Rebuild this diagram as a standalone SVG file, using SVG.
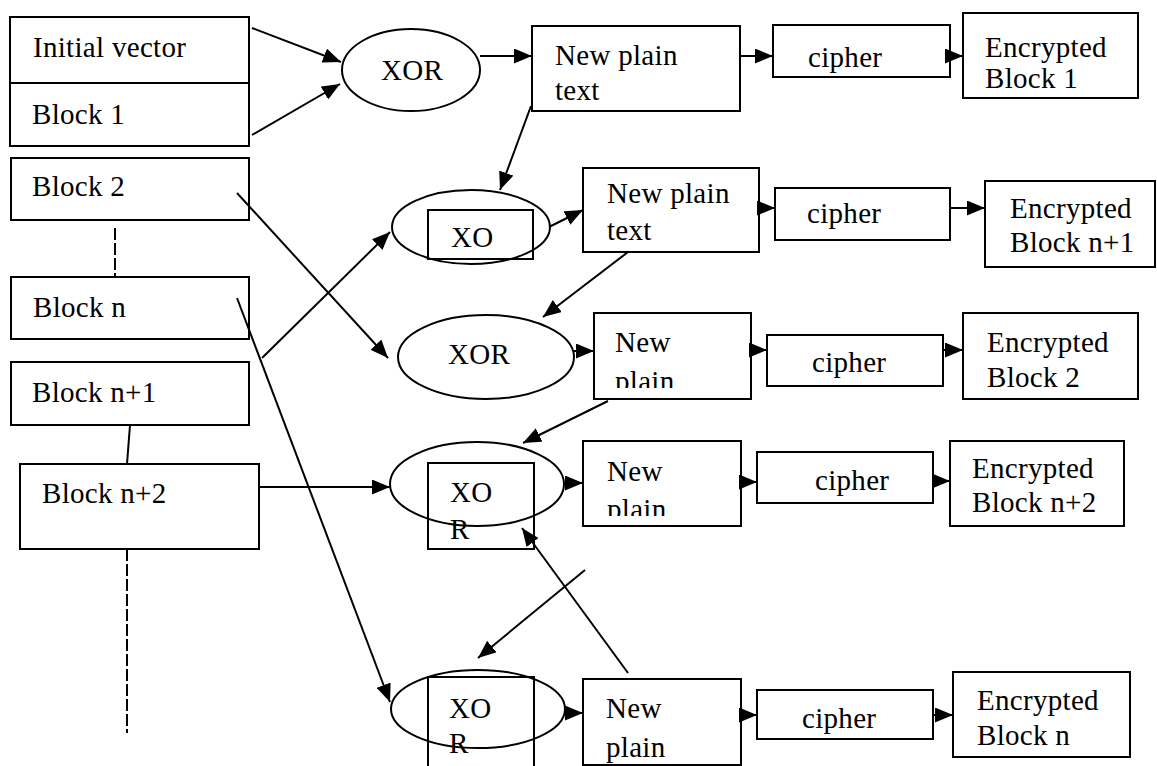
<svg xmlns="http://www.w3.org/2000/svg" width="1157" height="766" viewBox="0 0 1157 766">
<style>
.box{fill:#fff;stroke:#000;stroke-width:2}
.ov{fill:none;stroke:#000;stroke-width:2}
.t{font-family:"Liberation Serif","Times New Roman",serif;font-size:29px;letter-spacing:0.3px;fill:#000}
.ln{fill:none;stroke:#000;stroke-width:2}
.arr{fill:none;stroke:#000;stroke-width:2;marker-end:url(#ah)}
.dash{fill:none;stroke:#000;stroke-width:2;stroke-dasharray:12,3}
</style>
<defs>
<marker id="ah" markerUnits="userSpaceOnUse" markerWidth="19" markerHeight="15" refX="18" refY="7.5" orient="auto">
<path d="M0,0 L18,7.5 L0,15 z" fill="#000"/>
</marker>
<clipPath id="c3"><rect x="594" y="313" width="157" height="75"/></clipPath>
<clipPath id="c4"><rect x="583" y="441" width="158" height="75"/></clipPath>
</defs>

<g id="initial-vector"><rect class="box" x="10" y="17" width="239" height="66"/><text class="t" x="33" y="57">Initial vector</text></g>
<g id="block1"><rect class="box" x="10" y="83" width="239" height="63"/><text class="t" x="32" y="124">Block 1</text></g>
<g id="block2"><rect class="box" x="11" y="158" width="238" height="62"/><text class="t" x="32" y="196">Block 2</text></g>
<g id="blockn"><rect class="box" x="11" y="277" width="238" height="62"/><text class="t" x="33" y="317">Block n</text></g>
<g id="blockn1"><rect class="box" x="11" y="362" width="238" height="63"/><text class="t" x="32" y="402">Block n+1</text></g>
<g id="blockn2"><rect class="box" x="20" y="464" width="239" height="85"/><text class="t" x="42" y="503">Block n+2</text></g>

<g id="xor1"><ellipse class="ov" cx="411" cy="70" rx="69" ry="41"/><text class="t" x="381" y="80">XOR</text></g>
<g id="npt1"><rect class="box" x="532" y="26" width="208" height="85"/><text class="t" x="555" y="65">New plain</text><text class="t" x="555" y="100">text</text></g>
<g id="cipher1"><rect class="box" x="773" y="25" width="177" height="52"/><text class="t" x="808" y="67">cipher</text></g>
<g id="enc1"><rect class="box" x="963" y="13" width="175" height="85"/><text class="t" x="985" y="57">Encrypted</text><text class="t" x="985" y="88">Block 1</text></g>

<g id="xor2"><ellipse class="ov" cx="471" cy="227" rx="79" ry="37"/><rect class="ov" x="428" y="210" width="105" height="49"/><text class="t" x="451" y="247">XO</text></g>
<g id="npt2"><rect class="box" x="583" y="168" width="176" height="84"/><text class="t" x="607" y="203">New plain</text><text class="t" x="607" y="240">text</text></g>
<g id="cipher2"><rect class="box" x="775" y="188" width="175" height="52"/><text class="t" x="807" y="223">cipher</text></g>
<g id="encn1"><rect class="box" x="985" y="181" width="170" height="86"/><text class="t" x="1010" y="218">Encrypted</text><text class="t" x="1010" y="252">Block n+1</text></g>

<g id="xor3"><ellipse class="ov" cx="486" cy="357" rx="88" ry="42"/><text class="t" x="448" y="364">XOR</text></g>
<g id="npt3"><rect class="box" x="594" y="313" width="157" height="86"/><text class="t" x="615" y="352">New</text><text class="t" x="615" y="391" clip-path="url(#c3)">plain</text></g>
<g id="cipher3"><rect class="box" x="767" y="335" width="176" height="51"/><text class="t" x="812" y="372">cipher</text></g>
<g id="enc2"><rect class="box" x="963" y="313" width="175" height="86"/><text class="t" x="987" y="352">Encrypted</text><text class="t" x="987" y="387">Block 2</text></g>

<g id="xor4"><ellipse class="ov" cx="477" cy="484" rx="87" ry="42"/><rect class="ov" x="428" y="463" width="106" height="86"/><text class="t" x="450" y="502">XO</text><text class="t" x="450" y="539">R</text></g>
<g id="npt4"><rect class="box" x="583" y="441" width="158" height="85"/><text class="t" x="607" y="481">New</text><text class="t" x="607" y="519" clip-path="url(#c4)">plain</text></g>
<g id="cipher4"><rect class="box" x="757" y="452" width="176" height="51"/><text class="t" x="815" y="490">cipher</text></g>
<g id="encn2"><rect class="box" x="950" y="441" width="174" height="85"/><text class="t" x="972" y="478">Encrypted</text><text class="t" x="972" y="512">Block n+2</text></g>

<g id="xor5"><ellipse class="ov" cx="478" cy="709" rx="87" ry="39"/><rect class="ov" x="428" y="677" width="106" height="95"/><text class="t" x="449" y="718">XO</text><text class="t" x="449" y="753">R</text></g>
<g id="npt5"><rect class="box" x="583" y="679" width="158" height="86"/><text class="t" x="606" y="718">New</text><text class="t" x="606" y="757">plain</text></g>
<g id="cipher5"><rect class="box" x="757" y="690" width="176" height="49"/><text class="t" x="802" y="728">cipher</text></g>
<g id="encn"><rect class="box" x="953" y="672" width="177" height="85"/><text class="t" x="977" y="710">Encrypted</text><text class="t" x="977" y="745">Block n</text></g>

<g id="connectors">
<line class="arr" x1="252" y1="28" x2="341" y2="62"/>
<line class="arr" x1="252" y1="135" x2="340" y2="84"/>
<line class="arr" x1="480" y1="56" x2="532" y2="56"/>
<line class="arr" x1="740" y1="56" x2="773" y2="56"/>
<line class="arr" x1="950" y1="56" x2="963" y2="56"/>

<line class="arr" x1="531" y1="106" x2="500" y2="190"/>
<line class="arr" x1="549" y1="227" x2="583" y2="210"/>
<line class="arr" x1="759" y1="208" x2="775" y2="208"/>
<line class="arr" x1="950" y1="208" x2="985" y2="208"/>

<line class="arr" x1="628" y1="252" x2="543" y2="317"/>
<line class="arr" x1="573" y1="351" x2="594" y2="351"/>
<line class="arr" x1="751" y1="350" x2="767" y2="350"/>
<line class="arr" x1="943" y1="350" x2="963" y2="350"/>

<line class="arr" x1="608" y1="401" x2="523" y2="443"/>
<line class="arr" x1="563" y1="483" x2="583" y2="483"/>
<line class="arr" x1="741" y1="482" x2="757" y2="482"/>
<line class="arr" x1="933" y1="481" x2="950" y2="481"/>

<line class="arr" x1="628" y1="673" x2="522" y2="528"/>
<line class="arr" x1="585" y1="570" x2="478" y2="658"/>
<line class="arr" x1="565" y1="713" x2="583" y2="713"/>
<line class="arr" x1="741" y1="715" x2="757" y2="715"/>
<line class="arr" x1="933" y1="715" x2="953" y2="715"/>

<line class="arr" x1="237" y1="193" x2="388" y2="358"/>
<line class="arr" x1="262" y1="358" x2="390" y2="232"/>
<line class="arr" x1="237" y1="298" x2="390" y2="702"/>
<line class="arr" x1="259" y1="487" x2="390" y2="487"/>

<line class="dash" x1="115" y1="228" x2="115" y2="277"/>
<line class="ln" x1="130" y1="425" x2="127" y2="464"/>
<line class="dash" x1="127" y1="549" x2="127" y2="733"/>
</g>
</svg>
